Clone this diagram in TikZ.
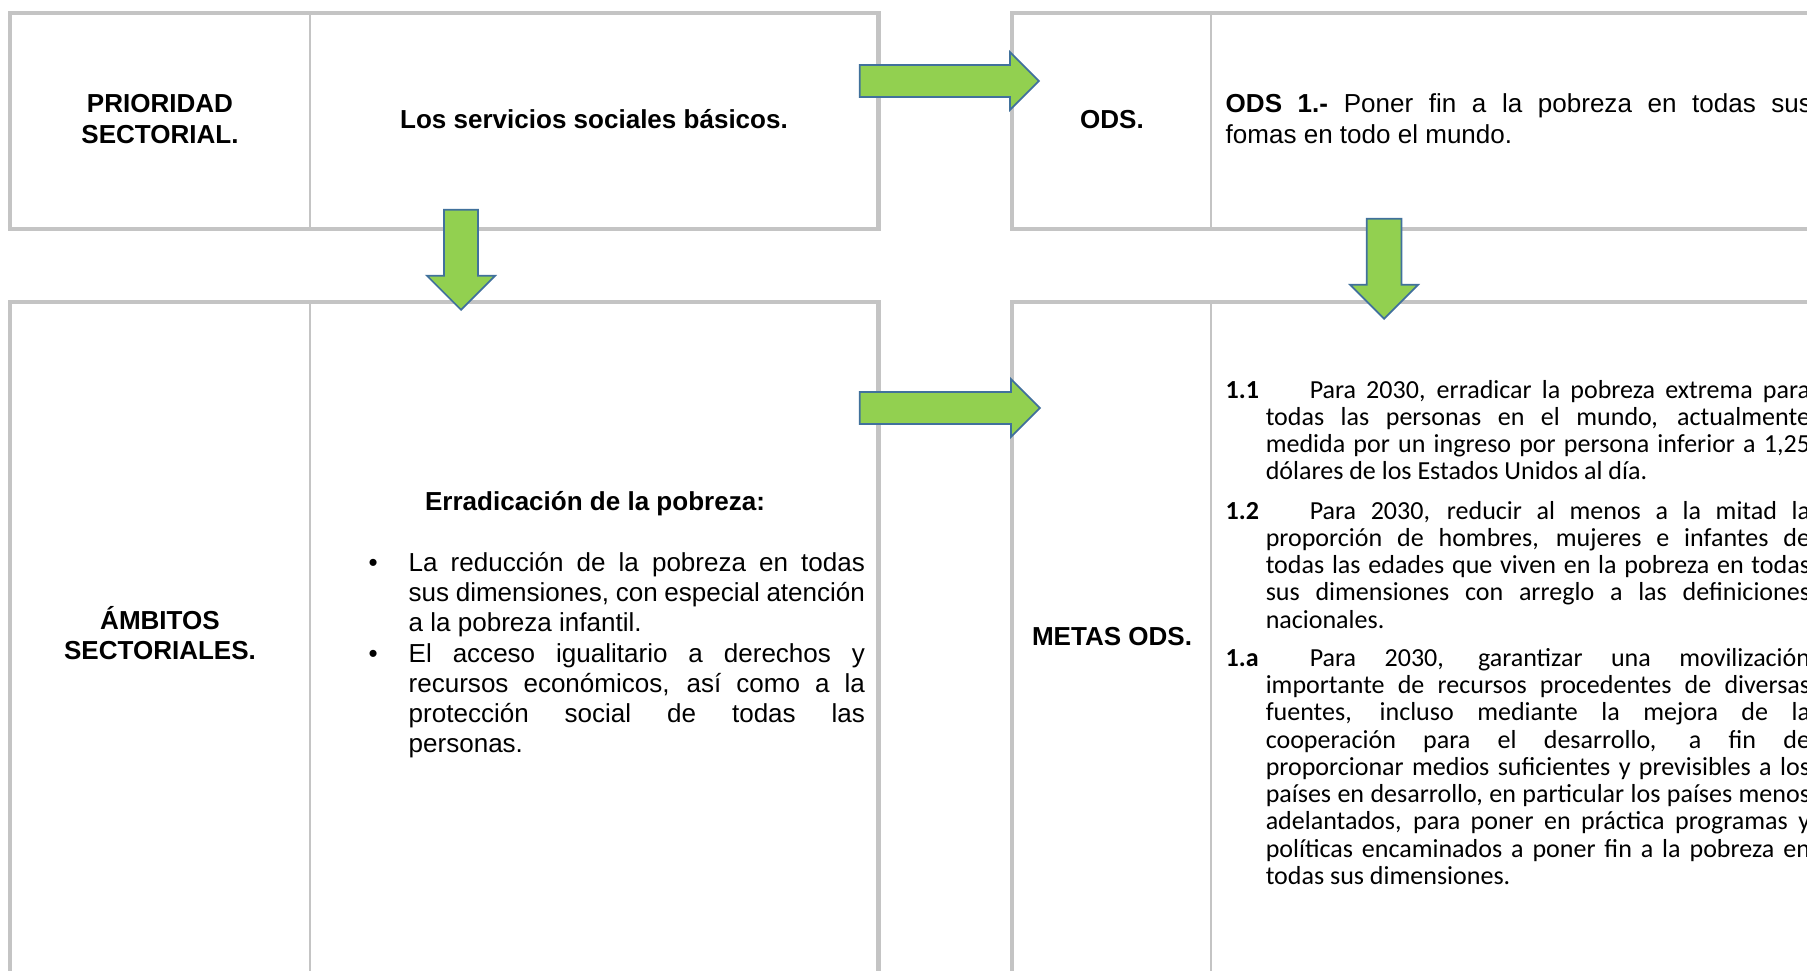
\documentclass[tikz,border=0pt]{standalone}
\usepackage{fontspec}
\setmainfont{Liberation Sans}
\newfontfamily\calibrifont{Carlito}
\usetikzlibrary{shapes.arrows}
\definecolor{cellGray}{RGB}{196,196,196}
\definecolor{arrowGreen}{HTML}{92D050}
\definecolor{arrowEdge}{HTML}{41719C}
\newcommand{\listbullet}{\leavevmode\llap{\textbullet\hspace{0.31cm}}}
\newcommand{\odsGoal}[2]{\hangindent=0.4cm\hangafter=1\noindent
  \makebox[0.84cm][l]{\textbf{#1}}#2\par}
\tikzset{%
  cell/.style = {rectangle, draw=cellGray, line width=0.75pt, inner sep=0pt,
      outer sep=0pt, anchor=north west},
  outerFrame/.style = {draw=cellGray, line width=1.25pt},
  greenArrow/.style = {single arrow, fill=arrowGreen, draw=arrowEdge,
      line width=0.5pt, inner sep=0.15cm, minimum width=0pt,
      single arrow head extend=0.13cm, anchor=tip},
  arialBold/.style = {font=\fontsize{7.4pt}{8.54pt}\selectfont\bfseries,
      inner sep=0pt},
  arialText/.style = {font=\fontsize{7.4pt}{8.54pt}\selectfont, inner sep=0pt},
  calibriText/.style = {font=\calibrifont\fontsize{7.4pt}{7.75pt}\selectfont,
      inner sep=0pt},
}
\begin{document}
\begin{tikzpicture}[x=0.01cm, y=-0.01cm]
  \useasboundingbox (0,0) rectangle (1807,970);
  \clip (0,0) rectangle (1807,970);
  \fill[white] (0,0) rectangle (1807,970);
  % Specification of the table cells
  \node (prioCell)  [cell, minimum width=3cm, minimum height=2.16cm] at (10,13) {};
  \node (servCell)  [cell, minimum width=5.68cm, minimum height=2.16cm]
                                               at (prioCell.north east) {};
  \node (odsCell)   [cell, minimum width=1.99cm, minimum height=2.16cm] at (1012,13) {};
  \node (ods1Cell)  [cell, minimum width=7cm, minimum height=2.16cm]
                                               at (odsCell.north east) {};
  \node (ambCell)   [cell, minimum width=3cm, minimum height=7cm] at (10,302) {};
  \node (erradCell) [cell, minimum width=5.68cm, minimum height=7cm]
                                               at (ambCell.north east) {};
  \node (metasCell) [cell, minimum width=1.99cm, minimum height=7cm] at (1012,302) {};
  \node (goalsCell) [cell, minimum width=7cm, minimum height=7cm]
                                               at (metasCell.north east) {};
  \draw[outerFrame] (prioCell.north west) rectangle (servCell.south east);
  \draw[outerFrame] (odsCell.north west) rectangle (ods1Cell.south east);
  \draw[outerFrame] (ambCell.north west) rectangle (erradCell.south east);
  \draw[outerFrame] (metasCell.north west) rectangle (goalsCell.south east);
  % Green block arrows between the tables
  \node (arrTop)    [greenArrow, minimum height=1.79cm] at (1040,81) {};
  \node (arrBottom) [greenArrow, minimum height=1.8cm] at (1041,408) {};
  \node (arrLeft)   [greenArrow, minimum height=1cm, rotate=-90,
                     inner sep=0.16cm, single arrow head extend=0.17cm] at (461,311) {};
  \node (arrRight)  [greenArrow, minimum height=1cm, rotate=-90,
                     inner sep=0.165cm, single arrow head extend=0.165cm] at (1384,320) {};
  % Texts of the cells
  \node (prioLbl)  [arialBold, text width=3cm, align=center, anchor=base] at (160,113)
                   {PRIORIDAD\\SECTORIAL.};
  \node (servTxt)  [arialBold, anchor=base] at (594,129) {Los servicios sociales básicos.};
  \node (odsLbl)   [arialBold, anchor=base] at (1112,129) {ODS.};
  \node (ods1Txt)  [arialText, text width=5.86cm, align=justify, anchor=base west]
                   at (1225,113)
                   {\textbf{ODS 1.-} Poner fin a la pobreza en todas sus\linebreak
                    fomas en todo el mundo.};
  \node (ambLbl)   [arialBold, text width=3cm, align=center, anchor=base] at (160,629)
                   {ÁMBITOS\\SECTORIALES.};
  \node (erradHead) [arialBold, anchor=base] at (595,510) {Erradicación de la pobreza:};
  \node (erradList) [arialText, text width=4.56cm, align=justify, anchor=base west]
                   at (408,571)
                   {\listbullet La reducción de la pobreza en todas\linebreak
                    sus dimensiones, con especial atención\linebreak
                    a la pobreza infantil.\par\vspace{0.015cm}
                    \listbullet El acceso igualitario a derechos y\linebreak
                    recursos económicos, así como a la\linebreak
                    protección social de todas las\linebreak
                    personas.\par};
  \node (metasLbl) [arialBold, anchor=base] at (1112,645) {METAS ODS.};
  \node (goalsList) [calibriText, text width=5.84cm, align=justify, anchor=base west]
                   at (1225,398)
                   {\odsGoal{1.1}{Para 2030, erradicar la pobreza extrema para\linebreak
                     todas las personas en el mundo, actualmente\linebreak
                     medida por un ingreso por persona inferior a 1,25\linebreak
                     dólares de los Estados Unidos al día.}
                    \vspace{0.12cm}
                    \odsGoal{1.2}{Para 2030, reducir al menos a la mitad la\linebreak
                     proporción de hombres, mujeres e infantes de\linebreak
                     todas las edades que viven en la pobreza en todas\linebreak
                     sus dimensiones con arreglo a las definiciones\linebreak
                     nacionales.}
                    \vspace{0.11cm}
                    \odsGoal{1.a}{Para 2030, garantizar una movilización\linebreak
                     importante de recursos procedentes de diversas\linebreak
                     fuentes, incluso mediante la mejora de la\linebreak
                     cooperación para el desarrollo, a fin de\linebreak
                     proporcionar medios suficientes y previsibles a los\linebreak
                     países en desarrollo, en particular los países menos\linebreak
                     adelantados, para poner en práctica programas y\linebreak
                     políticas encaminados a poner fin a la pobreza en\linebreak
                     todas sus dimensiones.}};
\end{tikzpicture}
\end{document}
